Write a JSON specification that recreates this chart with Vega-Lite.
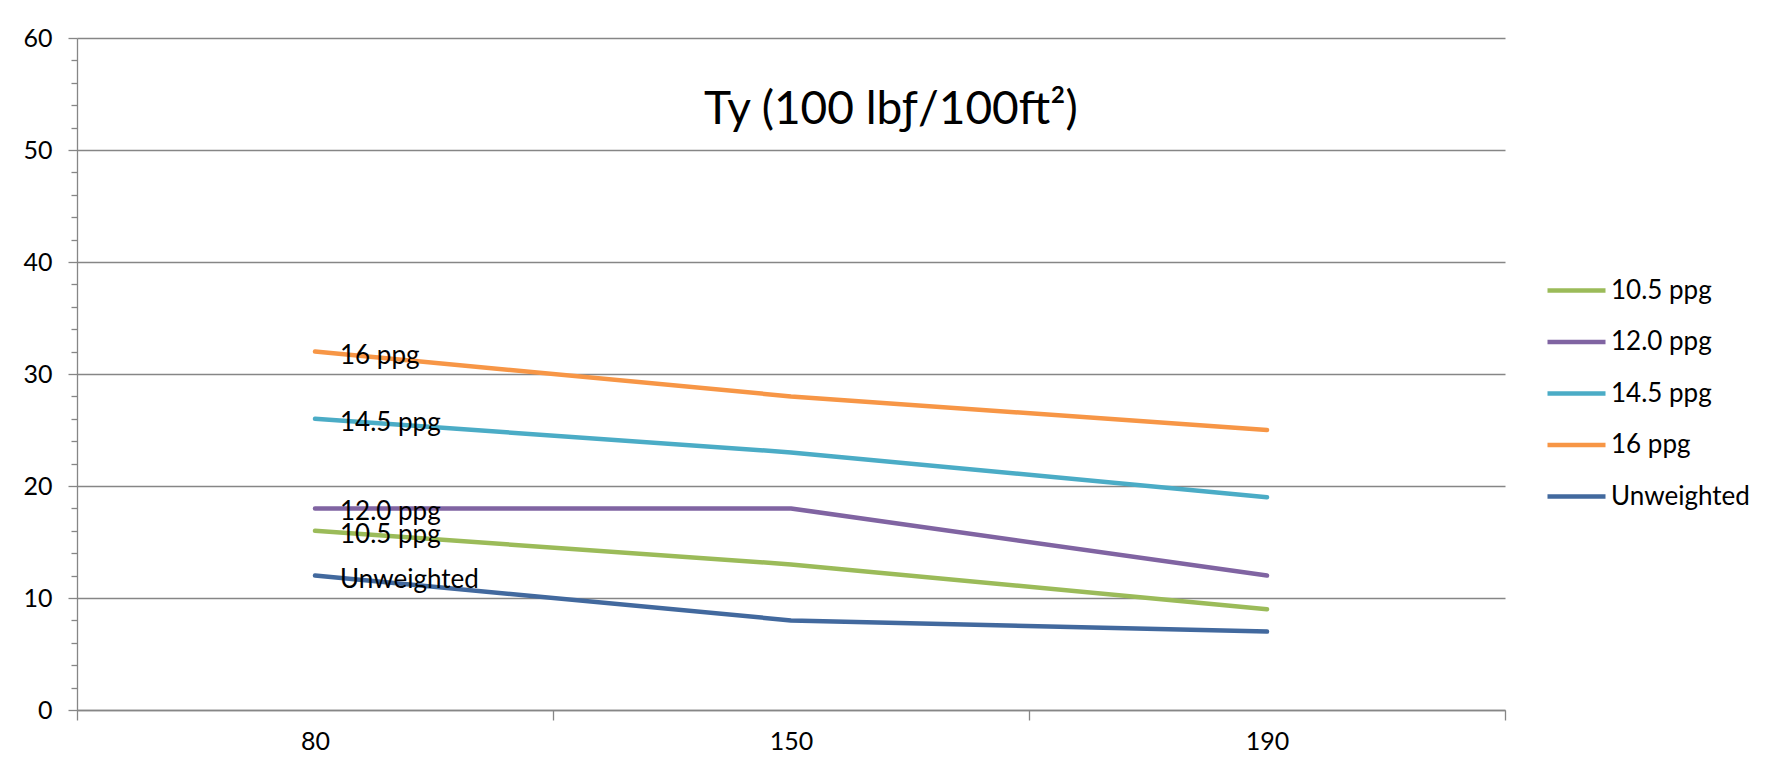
{
  "$schema": "https://vega.github.io/schema/vega-lite/v6.json",
  "width": 1428,
  "height": 672,
  "autosize": "none",
  "padding": {"left": 77, "top": 38, "right": 280, "bottom": 61},
  "background": "white",
  "config": {"view": {"stroke": null}, "font": "Lato"},
  "title": {
    "text": "Ty (100 lbƒ/100ft²)",
    "anchor": "middle",
    "frame": "group",
    "fontSize": 46,
    "font": "Lato",
    "fontWeight": "normal",
    "color": "#000000",
    "baseline": "alphabetic",
    "offset": 0,
    "dx": 100,
    "dy": 144
  },
  "data": {
    "values": [
      {"temp": 80, "series": "10.5 ppg", "value": 16},
      {"temp": 150, "series": "10.5 ppg", "value": 13},
      {"temp": 190, "series": "10.5 ppg", "value": 9},
      {"temp": 80, "series": "12.0 ppg", "value": 18},
      {"temp": 150, "series": "12.0 ppg", "value": 18},
      {"temp": 190, "series": "12.0 ppg", "value": 12},
      {"temp": 80, "series": "14.5 ppg", "value": 26},
      {"temp": 150, "series": "14.5 ppg", "value": 23},
      {"temp": 190, "series": "14.5 ppg", "value": 19},
      {"temp": 80, "series": "16 ppg", "value": 32},
      {"temp": 150, "series": "16 ppg", "value": 28},
      {"temp": 190, "series": "16 ppg", "value": 25},
      {"temp": 80, "series": "Unweighted", "value": 12},
      {"temp": 150, "series": "Unweighted", "value": 8},
      {"temp": 190, "series": "Unweighted", "value": 7}
    ]
  },
  "resolve": {"axis": {"y": "independent"}},
  "layer": [
    {
      "mark": {"type": "line", "strokeWidth": 4.5, "strokeCap": "round", "strokeJoin": "round"},
      "encoding": {
        "x": {
          "field": "temp",
          "type": "ordinal",
          "bandPosition": 0.5,
          "scale": {"type": "band", "paddingInner": 0, "paddingOuter": 0},
          "axis": {
            "title": null,
            "labelAngle": 0,
            "tickBand": "extent",
            "grid": false,
            "domainColor": "#868686",
            "domainWidth": 1.3,
            "tickColor": "#868686",
            "tickWidth": 1.3,
            "tickSize": 10,
            "labelPadding": 9,
            "labelFont": "Lato",
            "labelFontSize": 25,
            "labelColor": "#000000"
          }
        },
        "y": {
          "field": "value",
          "type": "quantitative",
          "scale": {"domain": [0, 60], "nice": false},
          "axis": {
            "title": null,
            "values": [0, 10, 20, 30, 40, 50, 60],
            "grid": true,
            "gridColor": "#868686",
            "gridWidth": 1.3,
            "domainColor": "#868686",
            "domainWidth": 1.3,
            "tickColor": "#868686",
            "tickWidth": 1.3,
            "tickSize": 9,
            "labelPadding": 16,
            "labelFont": "Lato",
            "labelFontSize": 25,
            "labelColor": "#000000"
          }
        },
        "color": {
          "field": "series",
          "type": "nominal",
          "scale": {
            "domain": ["10.5 ppg", "12.0 ppg", "14.5 ppg", "16 ppg", "Unweighted"],
            "range": ["#9BBB59", "#8064A2", "#4BACC6", "#F79646", "#42699E"]
          },
          "legend": {
            "title": null,
            "orient": "none",
            "legendX": 1468,
            "legendY": 221,
            "padding": 0,
            "symbolType": "stroke",
            "symbolSize": 3364,
            "symbolStrokeWidth": 4.5,
            "rowPadding": 6.5,
            "labelOffset": 3,
            "labelFont": "Lato",
            "labelFontSize": 26,
            "labelColor": "#000000"
          }
        }
      }
    },
    {
      "transform": [{"filter": "datum.temp == 80"}],
      "mark": {"type": "text", "align": "left", "baseline": "middle", "dx": 25, "dy": 4, "fontSize": 26, "font": "Lato", "color": "#000000"},
      "encoding": {
        "x": {"field": "temp", "type": "ordinal", "bandPosition": 0.5},
        "y": {
          "field": "value",
          "type": "quantitative",
          "axis": {
            "orient": "left",
            "title": null,
            "values": [2, 4, 6, 8, 12, 14, 16, 18, 22, 24, 26, 28, 32, 34, 36, 38, 42, 44, 46, 48, 52, 54, 56, 58],
            "labels": false,
            "domain": false,
            "grid": false,
            "tickColor": "#868686",
            "tickWidth": 1.3,
            "tickSize": 6
          }
        },
        "text": {"field": "series"}
      }
    }
  ]
}
